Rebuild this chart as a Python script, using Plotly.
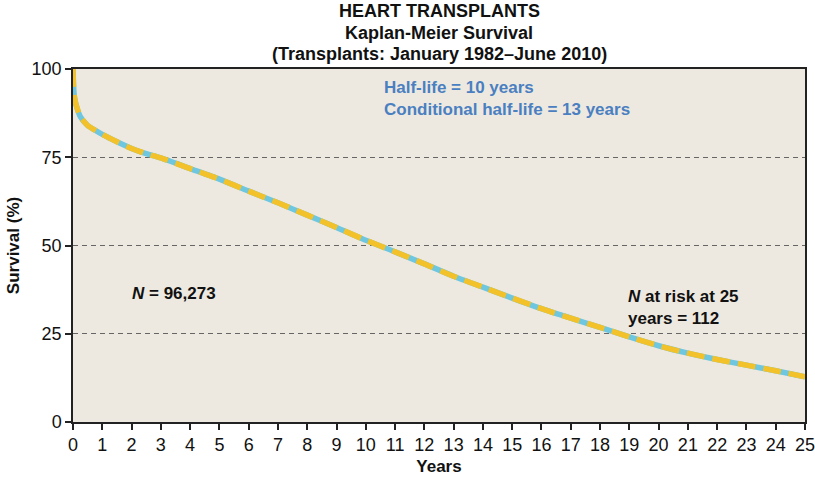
import plotly.graph_objects as go

# Kaplan-Meier survival
years = [0, 0.02, 0.05, 0.1, 0.25, 0.5, 0.75, 1, 1.5, 2, 2.5, 3, 4, 5, 6, 7, 8, 9, 10,
         11, 12, 13, 14, 15, 16, 17, 18, 19, 20, 21, 22, 23, 24, 25]
survival = [100, 95, 92, 90, 86.5, 84, 82.7, 81.5, 79.4, 77.5, 76, 74.8, 71.8, 68.8, 65.4,
            62.1, 58.6, 55.1, 51.5, 48.2, 44.8, 41.3, 38.2, 35.1, 32.1, 29.4, 26.8, 24.1,
            21.6, 19.5, 17.7, 16.1, 14.5, 12.8]

x_ticks = list(range(0, 26))
y_ticks = [0, 25, 50, 75, 100]

title_lines = ["HEART TRANSPLANTS", "Kaplan-Meier Survival", "(Transplants: January 1982\u2013June 2010)"]
halflife_text = ["Half-life = 10 years", "Conditional half-life = 13 years"]
n_text = "<i>N</i> = 96,273"
risk_text = ["<i>N</i> at risk at 25", "years = 112"]

FONT = "Liberation Sans, Arial, sans-serif"
BLUE_LINE = "#6ec6df"
YELLOW_LINE = "#f3c22a"
TEXT_BLUE = "#4a7fc1"

fig = go.Figure()
fig.add_trace(go.Scatter(x=years, y=survival, mode="lines",
                         line=dict(color=BLUE_LINE, width=5.5, shape="spline", smoothing=0.6),
                         hoverinfo="skip", showlegend=False))
fig.add_trace(go.Scatter(x=years, y=survival, mode="lines",
                         line=dict(color=YELLOW_LINE, width=5.5, dash="18px,8px", shape="spline", smoothing=0.6),
                         showlegend=False))

annotations = []
for line_text, ypos in zip(title_lines, [1.164, 1.103, 1.042]):
    annotations.append(dict(text="<b>" + line_text + "</b>", xref="paper", yref="paper",
                            x=0.5, y=ypos, xanchor="center", yanchor="middle", showarrow=False,
                            font=dict(family=FONT, size=18, color="#111")))
annotations += [
    dict(text="<b>" + "<br>".join(halflife_text) + "</b>", xref="x", yref="y",
         x=10.55, y=98, xanchor="left", yanchor="top", align="left", showarrow=False,
         font=dict(family=FONT, size=17, color=TEXT_BLUE)),
    dict(text="<b>" + n_text + "</b>", xref="x", yref="y",
         x=1.95, y=36.5, xanchor="left", yanchor="middle", align="left", showarrow=False,
         font=dict(family=FONT, size=17, color="#111")),
    dict(text="<b>" + "<br>".join(risk_text) + "</b>", xref="x", yref="y",
         x=18.9, y=38.8, xanchor="left", yanchor="top", align="left", showarrow=False,
         font=dict(family=FONT, size=17, color="#111")),
]

fig.update_layout(
    width=815, height=479,
    margin=dict(l=73, r=10, t=69, b=57, autoexpand=False),
    paper_bgcolor="white",
    plot_bgcolor="#eee9e0",
    font=dict(family=FONT, size=18, color="#111"),
    annotations=annotations,
    xaxis=dict(range=[0, 25], tickvals=x_ticks, ticktext=[str(v) for v in x_ticks],
               showgrid=False, zeroline=False, showline=True, linecolor="#222", linewidth=1.5,
               mirror=True, ticks="outside", ticklen=6, tickcolor="#222", tickwidth=1.5,
               automargin=False, ticklabeloverflow="allow",
               tickfont=dict(size=18), title=dict(text="<b>Years</b>", font=dict(size=17), standoff=6)),
    yaxis=dict(range=[0, 100], tickvals=y_ticks, ticktext=[str(v) for v in y_ticks],
               showgrid=True, gridcolor="#666", griddash="5px,4px", gridwidth=1,
               zeroline=False, showline=True, linecolor="#222", linewidth=1.5,
               mirror=True, ticks="outside", ticklen=6, tickcolor="#222", tickwidth=1.5,
               automargin=False, ticklabeloverflow="allow",
               tickfont=dict(size=18), title=dict(text="<b>Survival (%)</b>", font=dict(size=17), standoff=8)),
)

fig.write_html("out.html", config={"displayModeBar": False},
               post_script="document.body.style.margin='0';document.body.style.overflow='hidden';")
